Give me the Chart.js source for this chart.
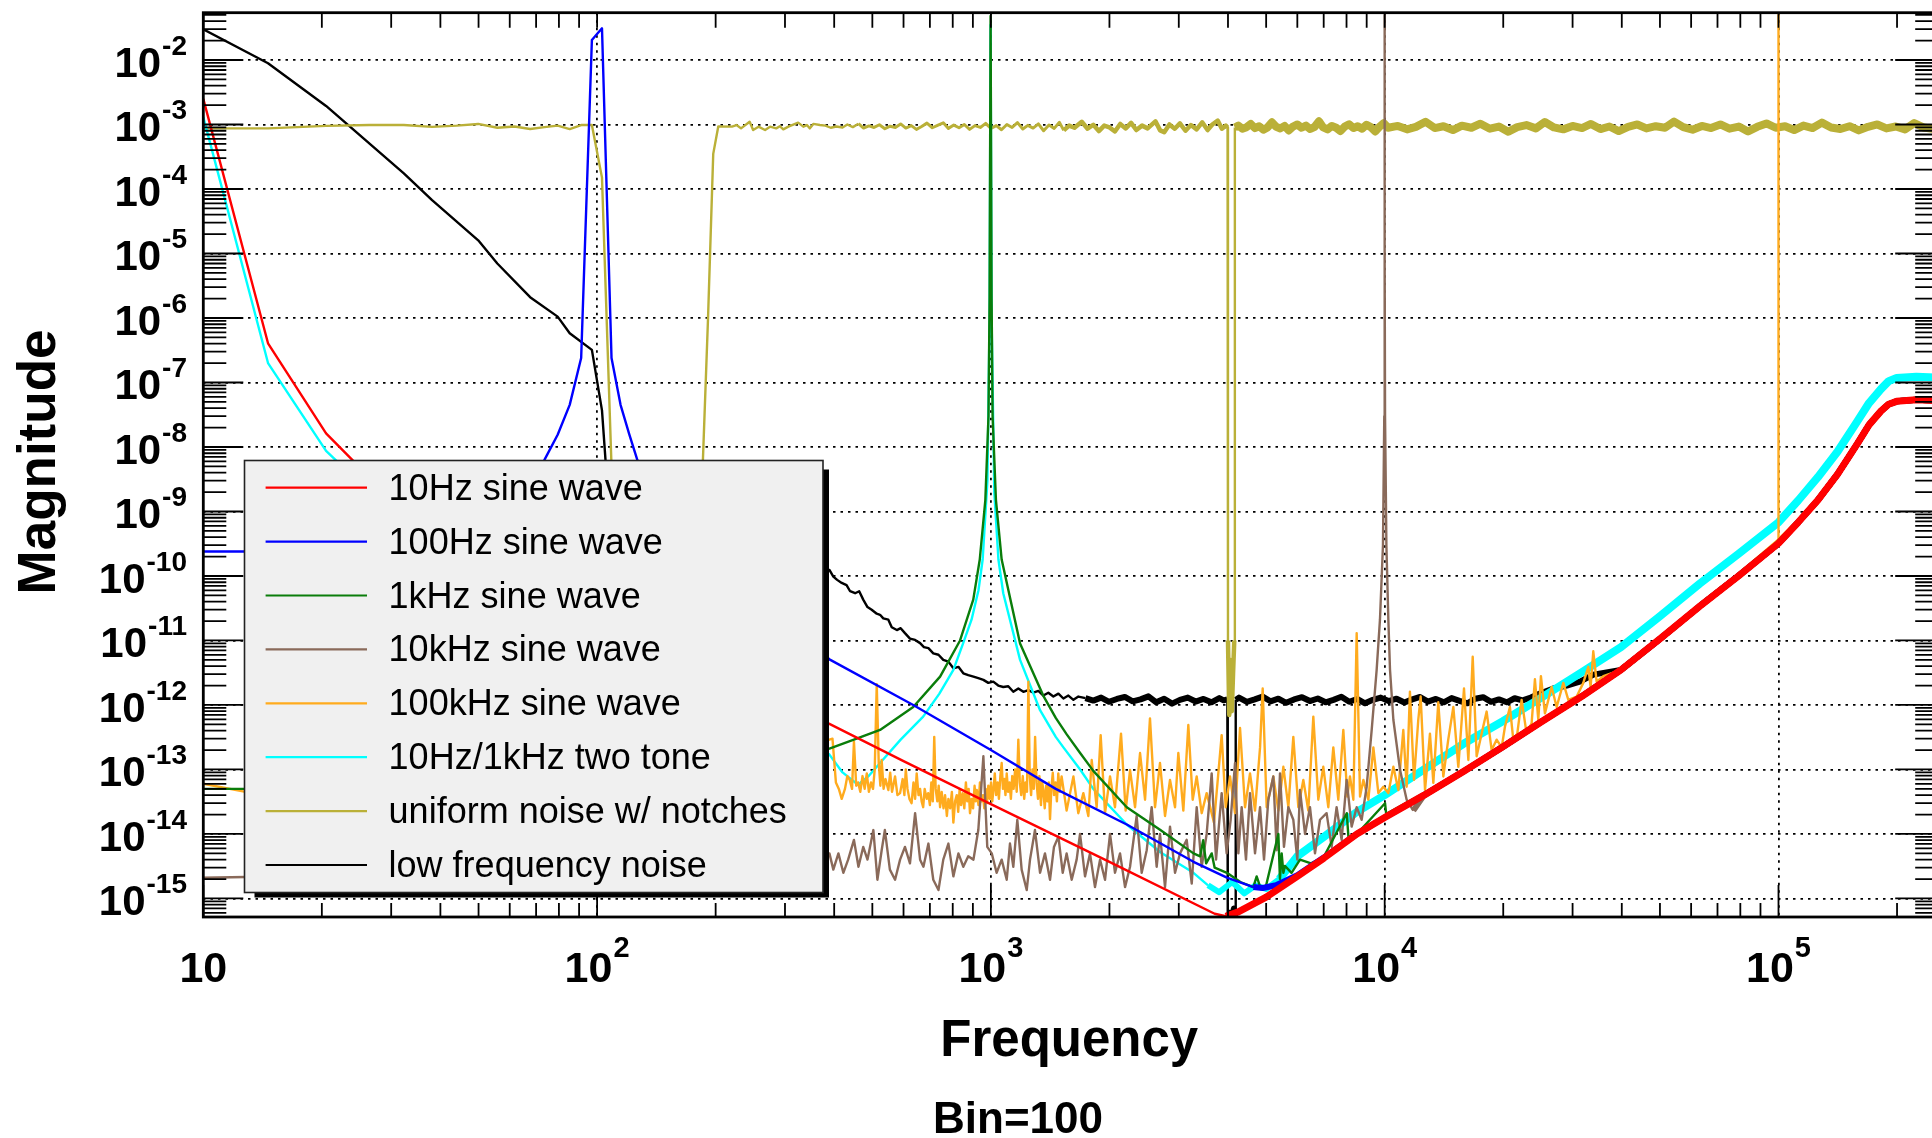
<!DOCTYPE html>
<html>
<head>
<meta charset="utf-8">
<title>Magnitude vs Frequency</title>
<script src="https://cdn.jsdelivr.net/npm/chart.js@4.4.1/dist/chart.umd.min.js"></script>
<style>
  html, body { margin: 0; padding: 0; background: #fff; overflow: hidden; }
  canvas { display: block; }
</style>
</head>
<body>
<canvas id="spectrum" width="1940" height="1138" style="width:1940px;height:1138px"></canvas>
<script>
// FFT magnitude spectra: one [frequency in Hz, magnitude] list per test signal

const sine10Hz = [
  [10, 2.5e-3], [14.6, 4.05e-7], [20.5, 1.63e-8], [26.4, 3.4e-9], [38.1, 5.2e-10],
  [55.8, 1.7e-10], [100, 2.9e-11], [200, 3.7e-12], [389, 5.1e-13], [600, 1.35e-13],
  [1000, 2.9e-14], [2000, 3.7e-15], [3700, 5.8e-16], [3950, 5.3e-16], [4250, 6.2e-16],
  [5000, 1.05e-15], [6000, 2.2e-15], [7000, 4.2e-15], [8500, 1e-14], [10000, 1.8e-14],
  [12590, 4.0e-14], [15850, 9.3e-14], [19950, 2.24e-13], [25120, 5.6e-13], [31620, 1.35e-12],
  [39810, 3.5e-12], [50120, 1.07e-11], [63100, 3.4e-11], [79430, 1.02e-10], [100000, 3.2e-10],
  [112200, 6.8e-10], [125900, 1.5e-9], [141300, 3.8e-9], [158500, 1.12e-8], [169800, 2.2e-8],
  [182000, 3.6e-8], [190500, 4.6e-8], [199500, 5.1e-8], [223900, 5.4e-8], [250000, 5.25e-8]
];

const sine100Hz = [
  [10, 2.4e-10], [14.6, 2.4e-10], [20.5, 2.5e-10], [40, 4e-10], [61.7, 1.5e-9],
  [67.6, 3e-9], [73.5, 6.3e-9], [79.4, 1.55e-8], [85.2, 4.5e-8], [91.1, 2.4e-7],
  [97.0, 2.04e-2], [102.9, 3.1e-2], [108.8, 2.4e-7], [114.7, 4.5e-8], [120.6, 1.6e-8],
  [126.5, 6.3e-9], [150, 1.2e-9], [200, 1.8e-10], [300, 2.5e-11], [389, 5.1e-12],
  [635, 1e-12], [1000, 2e-13], [1461, 5e-14], [2213, 1.4e-14], [3269, 3.7e-15],
  [3975, 2.1e-15], [4639, 1.5e-15], [4900, 1.45e-15], [5300, 1.6e-15], [6000, 2.3e-15],
  [7000, 4.3e-15], [8500, 1e-14], [10000, 1.8e-14], [12590, 4.0e-14], [15850, 9.3e-14],
  [19950, 2.24e-13], [25120, 5.6e-13], [31620, 1.35e-12], [39810, 3.5e-12], [50120, 1.07e-11],
  [63100, 3.4e-11], [79430, 1.02e-10], [100000, 3.2e-10], [112200, 6.8e-10], [125900, 1.5e-9],
  [141300, 3.8e-9], [158500, 1.12e-8], [169800, 2.2e-8], [182000, 3.6e-8], [190500, 4.6e-8],
  [199500, 5.1e-8], [223900, 5.4e-8], [250000, 5.25e-8]
];

const sine1kHz = [
  [10, 5e-14], [14.6, 5e-14], [20.5, 5e-14], [50, 5.5e-14], [100, 6.5e-14],
  [200, 9e-14], [300, 1.4e-13], [389, 2.1e-13], [456, 3e-13], [523, 4.1e-13],
  [635, 9.3e-13], [743, 2.75e-12], [835, 1e-11], [902, 4.3e-11], [937, 1.8e-10],
  [968, 1.5e-9], [986, 3e-8], [992.3, 2e-6], [998.2, 4.8e-2], [1004.1, 2e-6],
  [1010, 3e-8], [1030, 1.5e-9], [1065, 1.8e-10], [1186, 9e-12], [1358, 1.4e-12],
  [1461, 6.3e-13], [1558, 3.5e-13], [1685, 1.8e-13], [1820, 9.5e-14], [2213, 2.6e-14],
  [2694, 1.15e-14], [3269, 5e-15], [3400, 4.5e-15], [3460, 8e-15], [3520, 3.5e-15],
  [3637, 5e-15], [3700, 3e-15], [3975, 2.5e-15], [4300, 1.8e-15], [4639, 1.5e-15],
  [4730, 2.2e-15], [4850, 1.4e-15], [5000, 1.6e-15], [5370, 1e-14], [5420, 2e-15],
  [5475, 5e-15], [5530, 2.5e-15], [5580, 3.2e-15], [5800, 2.5e-15], [6095, 4e-15],
  [6500, 3.5e-15], [7000, 4.4e-15], [8010, 2.1e-14], [8100, 8e-15], [8500, 1e-14],
  [10020, 3e-14], [10100, 1.9e-14], [12590, 4.0e-14], [15850, 9.3e-14], [19950, 2.24e-13],
  [25120, 5.6e-13], [31620, 1.35e-12], [39810, 3.5e-12], [50120, 1.07e-11], [63100, 3.4e-11],
  [79430, 1.02e-10], [100000, 3.2e-10], [112200, 6.8e-10], [125900, 1.5e-9], [141300, 3.8e-9],
  [158500, 1.12e-8], [169800, 2.2e-8], [182000, 3.6e-8], [190500, 4.6e-8], [199500, 5.1e-8],
  [223900, 5.4e-8], [250000, 5.25e-8]
];

const sine10kHz = [
  [10, 2.1e-15], [12.8, 2.15e-15], [30, 2.4e-15], [100, 2.8e-15], [250, 3.2e-15],
  [389, 5.0e-15], [398, 2.8e-15], [410, 5.0e-15], [422, 2.5e-15], [434, 4.0e-15],
  [449, 8.1e-15], [461, 3.1e-15], [474, 6.3e-15], [486, 4.0e-15], [503, 1.15e-14],
  [515, 1.95e-15], [528, 5.6e-15], [538, 1.15e-14], [554, 2.8e-15], [571, 1.95e-15],
  [588, 4.0e-15], [605, 6.3e-15], [623, 3.5e-15], [642, 2.1e-14], [661, 4.0e-15],
  [674, 3.1e-15], [694, 7.1e-15], [714, 1.95e-15], [736, 1.35e-15], [757, 4.0e-15],
  [780, 7.1e-15], [803, 2.2e-15], [827, 5.0e-15], [851, 3.1e-15], [876, 4.5e-15],
  [903, 4.0e-15], [929, 1.15e-14], [957, 1.6e-13], [979, 6.3e-15], [1005, 5.0e-15],
  [1034, 2.5e-15], [1065, 4.0e-15], [1097, 1.95e-15], [1118, 7.1e-15], [1140, 3.1e-15],
  [1167, 1.66e-14], [1197, 2.8e-15], [1233, 1.35e-15], [1257, 4.0e-15], [1294, 1.15e-14],
  [1333, 2.5e-15], [1372, 5.0e-15], [1413, 1.95e-15], [1446, 6.3e-15], [1484, 9.1e-15],
  [1522, 2.5e-15], [1557, 5.0e-15], [1604, 1.95e-15], [1651, 4.0e-15], [1684, 1.0e-14],
  [1734, 2.2e-15], [1785, 5.0e-15], [1838, 1.5e-15], [1893, 4.0e-15], [1949, 1.95e-15],
  [2007, 1.0e-14], [2066, 2.5e-15], [2128, 5.0e-15], [2191, 1.5e-15], [2256, 3.1e-15],
  [2345, 1.9e-14], [2415, 2.5e-15], [2487, 5.6e-15], [2560, 2.6e-14], [2636, 3.1e-15],
  [2688, 1.0e-14], [2768, 1.5e-15], [2850, 1.3e-14], [2935, 2.5e-15], [3022, 5.0e-15],
  [3142, 8.1e-15], [3236, 1.7e-15], [3331, 2.6e-14], [3430, 3.1e-15], [3531, 1.0e-14],
  [3636, 8.7e-14], [3730, 4.0e-15], [3855, 4.3e-14], [3969, 5.0e-15], [4063, 1.66e-14],
  [4168, 1.26e-13], [4250, 5.0e-15], [4333, 2.6e-14], [4444, 4.0e-15], [4550, 4.3e-14],
  [4685, 5.0e-15], [4825, 2.6e-14], [4938, 4.0e-15], [5064, 3.4e-14], [5214, 7.8e-14],
  [5317, 5.6e-15], [5422, 8.7e-14], [5549, 6.3e-15], [5693, 2.6e-14], [5861, 1.66e-14],
  [6000, 4.0e-15], [6094, 4.8e-14], [6276, 1.0e-14], [6461, 2.6e-14], [6653, 5.0e-15],
  [6850, 1.66e-14], [7120, 2.1e-14], [7331, 6.3e-15], [7549, 2.6e-14], [7774, 8.1e-15],
  [8005, 6.9e-14], [8243, 1.3e-14], [8488, 2.6e-14], [8740, 1.66e-14], [9000, 5.4e-14],
  [9268, 4.1e-13], [9541, 3.5e-12], [9727, 2.1e-11], [9900, 3e-10], [9975, 3e-8],
  [9992, 1e-5], [9998, 5e-2], [10004, 1e-5], [10021, 3e-8], [10100, 3e-10],
  [10216, 2.1e-11], [10316, 3.5e-12], [10520, 5.9e-13], [10940, 9.8e-14], [11370, 3.4e-14],
  [11820, 2.3e-14], [12590, 4.0e-14], [15850, 9.3e-14], [19950, 2.24e-13], [25120, 5.6e-13],
  [31620, 1.35e-12], [39810, 3.5e-12], [50120, 1.07e-11], [63100, 3.4e-11], [79430, 1.02e-10],
  [100000, 3.2e-10], [112200, 6.8e-10], [125900, 1.5e-9], [141300, 3.8e-9], [158500, 1.12e-8],
  [169800, 2.2e-8], [182000, 3.6e-8], [190500, 4.6e-8], [199500, 5.1e-8], [223900, 5.4e-8],
  [250000, 5.25e-8]
];

const sine100kHz = [
  [10, 6e-14], [12.8, 4.5e-14], [20, 3.5e-14], [50, 4.5e-14], [100, 6e-14],
  [200, 1e-13], [300, 1.6e-13], [389, 2.9e-13], [396, 3.0e-13], [404, 6.3e-14],
  [411, 5.0e-14], [418, 3.5e-14], [426, 5.0e-14], [432, 7.9e-14], [438, 6.9e-14],
  [444, 5.0e-14], [449, 2.7e-13], [455, 5.6e-14], [460, 6.3e-14], [466, 4.5e-14],
  [472, 7.9e-14], [478, 5.0e-14], [484, 8.7e-14], [490, 4.5e-14], [496, 6.3e-14],
  [502, 5.0e-14], [507, 1.0e-13], [513, 2.1e-12], [519, 1.26e-13], [524, 5.6e-14],
  [528, 1.4e-13], [534, 5.0e-14], [540, 7.1e-14], [549, 4.8e-14], [555, 8.9e-14],
  [561, 4.5e-14], [571, 7.8e-14], [579, 4.0e-14], [588, 4.3e-14], [597, 7.1e-14],
  [603, 4.0e-14], [608, 1.0e-13], [614, 5.0e-14], [621, 3.5e-14], [629, 3.0e-14],
  [636, 6.3e-14], [642, 3.5e-14], [648, 8.7e-14], [655, 4.0e-14], [661, 5.0e-14],
  [667, 3.2e-14], [673, 2.6e-14], [679, 5.0e-14], [687, 3.5e-14], [693, 4.3e-14],
  [700, 2.8e-14], [706, 6.3e-14], [712, 3.2e-14], [718, 3.2e-13], [724, 5.0e-14],
  [731, 3.2e-14], [737, 5.6e-14], [743, 2.6e-14], [750, 4.5e-14], [758, 2.5e-14],
  [765, 4.0e-14], [773, 1.9e-14], [780, 3.5e-14], [788, 2.5e-14], [796, 4.5e-14],
  [803, 1.5e-14], [811, 3.2e-14], [819, 4.0e-14], [826, 2.2e-14], [833, 5.0e-14],
  [840, 2.8e-14], [848, 4.3e-14], [856, 2.5e-14], [864, 6.3e-14], [871, 3.2e-14],
  [878, 5.0e-14], [885, 2.1e-14], [893, 3.5e-14], [901, 2.5e-14], [909, 5.6e-14],
  [915, 3.2e-14], [921, 4.8e-14], [930, 2.8e-14], [938, 6.3e-14], [946, 3.2e-14],
  [955, 4.0e-14], [962, 2.5e-14], [970, 5.0e-14], [977, 3.0e-14], [985, 5.6e-14],
  [993, 3.5e-14], [1001, 6.3e-14], [1008, 3.2e-14], [1016, 5.0e-14], [1023, 8.7e-14],
  [1031, 4.0e-14], [1040, 6.3e-14], [1048, 3.5e-14], [1057, 7.9e-14], [1065, 1.26e-13],
  [1073, 5.0e-14], [1081, 7.1e-14], [1089, 4.0e-14], [1097, 8.7e-14], [1106, 4.5e-14],
  [1115, 6.3e-14], [1124, 3.5e-14], [1133, 7.9e-14], [1142, 5.0e-14], [1152, 1.0e-13],
  [1163, 4.5e-14], [1174, 2.9e-13], [1184, 6.3e-14], [1194, 4.0e-14], [1205, 7.9e-14],
  [1215, 3.5e-14], [1225, 6.3e-14], [1235, 4.5e-14], [1245, 2.3e-12], [1255, 7.9e-14],
  [1265, 4.0e-14], [1275, 1.0e-13], [1285, 5.0e-14], [1295, 3.2e-13], [1306, 6.3e-14],
  [1317, 3.5e-14], [1328, 7.9e-14], [1340, 2.8e-14], [1350, 6.3e-14], [1359, 4.8e-14],
  [1370, 2.5e-14], [1381, 5.6e-14], [1392, 3.2e-14], [1403, 6.3e-14], [1413, 1.7e-14],
  [1424, 5.0e-14], [1436, 8.9e-14], [1447, 4.0e-14], [1459, 6.3e-14], [1471, 3.2e-14],
  [1483, 8.7e-14], [1495, 4.5e-14], [1512, 7.8e-14], [1557, 2.3e-14], [1620, 7.8e-14],
  [1667, 2.1e-14], [1717, 4.3e-14], [1768, 1.9e-14], [1803, 1.4e-13], [1856, 2.6e-14],
  [1900, 3.4e-13], [1949, 2.1e-14], [2007, 7.8e-14], [2066, 2.6e-14], [2140, 3.6e-13],
  [2199, 2.3e-14], [2256, 9.8e-14], [2323, 2.6e-14], [2392, 1.8e-13], [2463, 3.4e-14],
  [2535, 6.2e-13], [2611, 2.6e-14], [2688, 1.26e-13], [2768, 1.9e-14], [2850, 6.9e-14],
  [2935, 2.6e-14], [2992, 1.8e-13], [3081, 2.3e-14], [3172, 4.9e-13], [3254, 3.4e-14],
  [3331, 7.8e-14], [3430, 2.1e-14], [3531, 4.3e-14], [3686, 1.5e-14], [3855, 3.4e-13],
  [3947, 2.6e-14], [4048, 7.8e-14], [4168, 2.1e-14], [4292, 4.4e-13], [4419, 2.6e-14],
  [4550, 8.7e-14], [4685, 2.3e-14], [4825, 2.2e-13], [4900, 1.8e-12], [5015, 2.6e-14],
  [5214, 7.8e-14], [5370, 2.3e-14], [5529, 1.1e-13], [5693, 2.6e-14], [5861, 3.2e-13],
  [6035, 2.6e-14], [6214, 6.9e-14], [6398, 2.3e-14], [6588, 6.6e-13], [6783, 3.4e-14],
  [6984, 1.1e-13], [7191, 2.6e-14], [7405, 2.2e-13], [7624, 3.4e-14], [7852, 4.1e-13],
  [8037, 3.8e-14], [8163, 7.8e-14], [8325, 3.4e-14], [8489, 1.3e-11], [8656, 3.8e-14],
  [8827, 6.9e-14], [9089, 3.4e-14], [9359, 2.2e-13], [9636, 4.3e-14], [9922, 5.4e-14],
  [10216, 4.3e-14], [10520, 1.1e-13], [10830, 4.8e-14], [11150, 4.1e-13], [11370, 5.4e-14],
  [11590, 1.6e-12], [11870, 6.9e-14], [12170, 5.9e-13], [12340, 1.35e-12], [12660, 4.8e-14],
  [13030, 3.6e-13], [13290, 6.2e-14], [13680, 1.1e-12], [14090, 7.8e-14], [14500, 2.9e-13],
  [14940, 9.3e-13], [15380, 1.1e-13], [15900, 1.8e-12], [16310, 1.4e-13], [16730, 5.6e-12],
  [17120, 1.6e-13], [17630, 3.6e-13], [18150, 7.9e-13], [18690, 2.0e-13], [19240, 2.9e-13],
  [19820, 2.2e-13], [20200, 4.6e-13], [20800, 9.3e-13], [21210, 2.9e-13], [21710, 3.6e-13],
  [22270, 1.2e-12], [22930, 3.6e-13], [23610, 5.2e-13], [24070, 2.5e-12], [24550, 5.9e-13],
  [24930, 2.8e-12], [25520, 7.4e-13], [26540, 1.9e-12], [27330, 9.3e-13], [28420, 2.2e-12],
  [29260, 1.2e-12], [30730, 1.35e-12], [31940, 2.2e-12], [32890, 3.9e-12], [33340, 1.9e-12],
  [33860, 6.8e-12], [34530, 2.3e-12], [35910, 2.8e-12], [39810, 3.5e-12], [50120, 1.07e-11],
  [63100, 3.4e-11], [79430, 1.02e-10], [99994, 3.4e-10], [100000, 5e-2], [100006, 3.4e-10],
  [112200, 6.8e-10], [125900, 1.5e-9], [141300, 3.8e-9], [158500, 1.12e-8], [169800, 2.2e-8],
  [182000, 3.6e-8], [190500, 4.6e-8], [199500, 5.1e-8], [223900, 5.4e-8], [250000, 5.25e-8]
];

const twoTone = [
  [10, 1.3e-3], [14.6, 2e-7], [20.5, 8.7e-9], [26.4, 2e-9], [40, 3e-10],
  [100, 1.8e-11], [200, 2.2e-12], [300, 5e-13], [389, 1.7e-13], [420, 9e-14],
  [460, 5.8e-14], [490, 8e-14], [523, 1.26e-13], [590, 2.9e-13], [673, 6.6e-13],
  [740, 1.5e-12], [803, 3.5e-12], [850, 9e-12], [893, 2.1e-11], [930, 6e-11],
  [953, 1.8e-10], [980, 3e-9], [992.3, 1e-6], [998.2, 3.5e-2], [1004.1, 1e-6],
  [1020, 2e-9], [1045, 1.8e-10], [1075, 5.4e-11], [1186, 5e-12], [1333, 8.3e-13],
  [1461, 3.2e-13], [1528, 2.2e-13], [1685, 1e-13], [1820, 5e-14], [2213, 1.4e-14],
  [2694, 5.2e-15], [3269, 2.5e-15], [3560, 1.6e-15], [3800, 1.25e-15], [4100, 1.8e-15],
  [4400, 1.2e-15], [4700, 1.6e-15], [5000, 1.4e-15], [5400, 2e-15], [6000, 4.5e-15],
  [7000, 9e-15], [8500, 2.2e-14], [10000, 4e-14], [12590, 1.0e-13], [15850, 2.5e-13],
  [19950, 5.6e-13], [25120, 1.32e-12], [31620, 3.2e-12], [39810, 7.9e-12], [50120, 2.4e-11],
  [63100, 7.6e-11], [79430, 2.24e-10], [100000, 6.8e-10], [112200, 1.48e-9], [125900, 3.4e-9],
  [141300, 8.5e-9], [158500, 2.5e-8], [169800, 4.8e-8], [182000, 7.9e-8], [190500, 1.05e-7],
  [199500, 1.17e-7], [223900, 1.23e-7], [250000, 1.2e-7]
];

const uniformNoise = [
  [10, 8.7e-4], [14.6, 8.7e-4], [20.5, 9.5e-4], [26.4, 9.8e-4], [32.3, 9.8e-4],
  [38.1, 9.2e-4], [44.0, 9.6e-4], [49.9, 1.02e-3], [55.8, 8.9e-4], [61.7, 9.3e-4],
  [67.6, 8.5e-4], [73.5, 9.1e-4], [79.4, 9.6e-4], [85.2, 8.5e-4], [91.1, 9.8e-4],
  [97.0, 9.8e-4], [102.9, 1.5e-4], [108.8, 5e-9], [114.7, 1e-12], [130, 3e-13],
  [150, 5e-13], [170, 2e-13], [179.5, 1e-12], [185.4, 5e-9], [191.3, 1e-6],
  [197.2, 3.5e-4], [203.1, 9.3e-4], [220, 9.25e-4], [226, 9.8e-4], [232, 8.7e-4],
  [244, 1.1e-3], [249, 8.2e-4], [257, 9.25e-4], [267, 8.2e-4], [275, 9.25e-4],
  [285, 8.7e-4], [291, 9.4e-4], [297, 8.4e-4], [306, 9.25e-4], [324, 1.07e-3],
  [334, 9.25e-4], [341, 9.8e-4], [347, 8.7e-4], [354, 1.02e-3], [368, 9.8e-4],
  [380, 9.6e-4], [392, 8.9e-4], [405, 9.3e-4], [420, 9.0e-4], [432, 1.0e-3],
  [446, 9.1e-4], [461, 1.03e-3], [475, 8.8e-4], [490, 9.5e-4], [505, 9.0e-4],
  [521, 9.9e-4], [538, 8.6e-4], [555, 9.4e-4], [572, 9.0e-4], [590, 1.02e-3],
  [608, 8.8e-4], [628, 9.6e-4], [647, 8.4e-4], [667, 9.3e-4], [688, 1.05e-3],
  [710, 8.9e-4], [732, 9.7e-4], [757, 1.06e-3], [780, 8.7e-4], [805, 9.8e-4],
  [830, 8.9e-4], [856, 1.0e-3], [883, 8.4e-4], [911, 9.6e-4], [940, 9.0e-4],
  [970, 1.04e-3], [1000, 8.7e-4], [1032, 9.6e-4], [1064, 8.3e-4], [1098, 1.0e-3],
  [1132, 9.0e-4], [1168, 1.07e-3], [1205, 8.5e-4], [1241, 9.7e-4], [1280, 8.8e-4],
  [1320, 1.02e-3], [1361, 8.0e-4], [1404, 9.8e-4], [1448, 8.7e-4], [1493, 1.08e-3],
  [1531, 8.1e-4], [1580, 9.6e-4], [1630, 8.9e-4], [1701, 1.1e-3], [1760, 8.6e-4],
  [1820, 9.9e-4], [1880, 7.9e-4], [1940, 9.6e-4], [2000, 9.0e-4], [2065, 7.8e-4],
  [2130, 1.02e-3], [2200, 8.7e-4], [2270, 1.06e-3], [2340, 8.2e-4], [2420, 9.6e-4],
  [2500, 8.7e-4], [2617, 1.12e-3], [2690, 8.1e-4], [2755, 7.6e-4], [2840, 1.0e-3],
  [2930, 8.6e-4], [3020, 1.04e-3], [3120, 8.0e-4], [3220, 9.8e-4], [3330, 8.4e-4],
  [3440, 1.08e-3], [3550, 8.2e-4], [3650, 1.0e-3], [3767, 1.15e-3], [3860, 8.6e-4],
  [3950, 9.6e-4], [3990, 9e-4], [4000, 1e-11], [4030, 7e-13], [4060, 5e-12],
  [4090, 8e-13], [4120, 3e-12], [4150, 1e-11], [4164, 9e-4], [4250, 9.6e-4],
  [4350, 8.6e-4], [4460, 9.1e-4], [4570, 1.02e-3], [4680, 8.8e-4], [4800, 9.4e-4],
  [4920, 8.3e-4], [5040, 9.0e-4], [5170, 1.08e-3], [5300, 9.2e-4], [5430, 8.7e-4],
  [5570, 9.5e-4], [5710, 8.1e-4], [5850, 9.3e-4], [6000, 1.0e-3], [6150, 8.9e-4],
  [6310, 9.6e-4], [6470, 8.5e-4], [6640, 9.2e-4], [6810, 1.12e-3], [6980, 9.0e-4],
  [7160, 8.4e-4], [7340, 9.5e-4], [7530, 8.9e-4], [7720, 7.9e-4], [7920, 9.3e-4],
  [8120, 1.01e-3], [8330, 8.8e-4], [8540, 9.4e-4], [8760, 8.6e-4], [8990, 9.9e-4],
  [9220, 9.1e-4], [9460, 7.8e-4], [9700, 9.2e-4], [9950, 1.05e-3], [10200, 8.9e-4],
  [10800, 9.5e-4], [11400, 8.4e-4], [12000, 9.2e-4], [12700, 1.1e-3], [13400, 8.8e-4],
  [14100, 9.4e-4], [14900, 8.2e-4], [15700, 9.6e-4], [16600, 8.9e-4], [17500, 1.03e-3],
  [18500, 8.6e-4], [19500, 9.3e-4], [20600, 7.7e-4], [21700, 9.1e-4], [22900, 9.8e-4],
  [24200, 8.7e-4], [25500, 1.09e-3], [26900, 9.0e-4], [28400, 8.4e-4], [30000, 9.5e-4],
  [31700, 8.8e-4], [33400, 1.02e-3], [35300, 8.5e-4], [37200, 9.3e-4], [39300, 7.9e-4],
  [41500, 9.2e-4], [43800, 1.0e-3], [46200, 8.7e-4], [48800, 9.4e-4], [51500, 8.9e-4],
  [54300, 1.11e-3], [57300, 9.1e-4], [60500, 8.3e-4], [63900, 9.5e-4], [67400, 8.8e-4],
  [71200, 1.0e-3], [75100, 8.6e-4], [79300, 9.3e-4], [83700, 7.8e-4], [88300, 9.2e-4],
  [93200, 1.04e-3], [98400, 8.9e-4], [103900, 9.4e-4], [109600, 8.2e-4], [115700, 9.6e-4],
  [122100, 8.8e-4], [128900, 1.07e-3], [136000, 9.0e-4], [143600, 8.5e-4], [151500, 9.4e-4],
  [159900, 8.1e-4], [168800, 9.2e-4], [178200, 1.0e-3], [188000, 8.7e-4], [198500, 9.3e-4],
  [209500, 8.4e-4], [221100, 1.05e-3], [233400, 9.0e-4], [246300, 8.6e-4], [250000, 9.1e-4]
];

const lowFreqNoise = [
  [10, 3.0e-2], [14.6, 8.9e-3], [20.5, 1.94e-3], [32.3, 1.75e-4], [38.1, 6.7e-5],
  [49.9, 1.6e-5], [55.8, 7e-6], [67.6, 2.1e-6], [79.4, 1.05e-6], [85.2, 5.8e-7],
  [97.0, 3.2e-7], [102.9, 3.7e-8], [108.8, 3e-10], [150, 2e-10], [250, 1.6e-10],
  [389, 1.24e-10], [398, 9.8e-11], [407, 8.7e-11], [418, 7.8e-11], [430, 7.2e-11],
  [439, 5.8e-11], [452, 5.4e-11], [463, 5.8e-11], [474, 4.3e-11], [486, 3.3e-11],
  [498, 3.0e-11], [513, 2.6e-11], [523, 2.5e-11], [533, 2.2e-11], [549, 2.1e-11],
  [560, 1.6e-11], [577, 1.45e-11], [590, 1.55e-11], [605, 1.3e-11], [623, 1.07e-11],
  [642, 1.02e-11], [661, 9.1e-12], [676, 7.9e-12], [694, 7.6e-12], [714, 6.3e-12],
  [736, 6.0e-12], [757, 5.0e-12], [780, 4.7e-12], [803, 3.7e-12], [827, 3.9e-12],
  [851, 3.1e-12], [876, 2.9e-12], [903, 2.75e-12], [929, 2.6e-12], [957, 2.45e-12],
  [985, 2.2e-12], [1014, 2.3e-12], [1044, 2.0e-12], [1075, 1.9e-12], [1107, 1.95e-12],
  [1140, 1.6e-12], [1174, 1.8e-12], [1209, 1.6e-12], [1245, 1.7e-12], [1282, 1.55e-12],
  [1320, 1.65e-12], [1359, 1.4e-12], [1399, 1.55e-12], [1441, 1.35e-12], [1484, 1.5e-12],
  [1528, 1.26e-12], [1573, 1.4e-12], [1620, 1.2e-12], [1668, 1.35e-12], [1738, 1.28e-12],
  [1820, 1.17e-12], [1905, 1.3e-12], [1995, 1.12e-12], [2089, 1.24e-12], [2188, 1.33e-12],
  [2291, 1.14e-12], [2399, 1.22e-12], [2512, 1.36e-12], [2630, 1.1e-12], [2754, 1.25e-12],
  [2884, 1.05e-12], [3020, 1.2e-12], [3162, 1.3e-12], [3311, 1.13e-12], [3467, 1.24e-12],
  [3631, 1.1e-12], [3802, 1.28e-12], [3900, 1.18e-12], [3985, 1.22e-12], [3995, 4e-16],
  [4040, 6e-16], [4090, 4.5e-16], [4140, 7e-16], [4175, 5e-16], [4185, 1.2e-12],
  [4266, 1.3e-12], [4467, 1.12e-12], [4677, 1.22e-12], [4898, 1.35e-12], [5129, 1.14e-12],
  [5370, 1.25e-12], [5623, 1.08e-12], [5888, 1.22e-12], [6166, 1.32e-12], [6457, 1.15e-12],
  [6761, 1.26e-12], [7079, 1.1e-12], [7413, 1.2e-12], [7762, 1.34e-12], [8128, 1.12e-12],
  [8511, 1.24e-12], [8913, 1.06e-12], [9333, 1.2e-12], [9772, 1.3e-12], [10230, 1.15e-12],
  [10720, 1.25e-12], [11220, 1.09e-12], [11750, 1.22e-12], [12300, 1.33e-12], [12880, 1.13e-12],
  [13490, 1.24e-12], [14130, 1.1e-12], [14790, 1.28e-12], [15490, 1.16e-12], [16220, 1.06e-12],
  [16980, 1.25e-12], [17780, 1.32e-12], [18620, 1.12e-12], [19500, 1.22e-12], [20420, 1.1e-12],
  [21380, 1.27e-12], [22390, 1.18e-12], [23500, 1.3e-12], [24800, 1.5e-12], [26800, 1.8e-12],
  [29000, 2.0e-12], [31300, 2.3e-12], [33900, 2.95e-12], [39810, 3.5e-12], [50120, 1.07e-11],
  [63100, 3.4e-11], [79430, 1.02e-10], [100000, 3.2e-10], [112200, 6.8e-10], [125900, 1.5e-9],
  [141300, 3.8e-9], [158500, 1.12e-8], [169800, 2.2e-8], [182000, 3.6e-8], [190500, 4.6e-8],
  [199500, 5.1e-8], [223900, 5.4e-8], [250000, 5.25e-8]
];

// axis decades that get a "10^n" label
const xDecades = [1, 2, 3, 4, 5];
const yDecades = [-2, -3, -4, -5, -6, -7, -8, -9, -10, -11, -12, -13, -14, -15];
const xTitle = 'Frequency';
const yTitle = 'Magnitude';
const footNote = 'Bin=100';

const FONT = '"Liberation Sans", Arial, Helvetica, sans-serif';
const X_MIN = 10, X_MAX = 2.5e5;
const Y_MIN = 5.16e-16, Y_MAX = 5.41e-2;

function logTicks(lo, hi) {
  const out = [];
  for (let e = Math.floor(Math.log10(lo)); e <= Math.ceil(Math.log10(hi)); e++) {
    for (let m = 1; m <= 9; m++) {
      const v = m * Math.pow(10, e);
      if (v >= lo * 0.999 && v <= hi) out.push({ value: v, major: m === 1 });
    }
  }
  return out;
}

// pen width by frequency band; steep jumps (peaks, notches) keep the thin pen
function pen(bands) {
  return (c) => {
    const a = c.p0.parsed, b = c.p1.parsed;
    if (Math.abs(Math.log10(b.y / a.y)) > 1.2) return bands[0][1];
    let w = bands[0][1];
    for (const [f, bw] of bands) if (a.x >= f) w = bw;
    return w;
  };
}

const series = [
  { label: '10Hz sine wave', color: '#ff0000', points: sine10Hz, bands: [[0, 2.4], [3800, 7]] },
  { label: '100Hz sine wave', color: '#0000ff', points: sine100Hz, bands: [[0, 2.4], [4600, 6]] },
  { label: '1kHz sine wave', color: '#0a7d0a', points: sine1kHz, bands: [[0, 2.4], [10100, 6]] },
  { label: '10kHz sine wave', color: '#8a6a5a', points: sine10kHz, bands: [[0, 2.4], [11820, 6]] },
  { label: '100kHz sine wave', color: '#ffab1e', points: sine100kHz, bands: [[0, 2.4], [38000, 6]] },
  { label: '10Hz/1kHz two tone', color: '#00ffff', points: twoTone, bands: [[0, 2.4], [3500, 6], [5400, 8]] },
  { label: 'uniform noise w/ notches', color: '#bab038', points: uniformNoise, bands: [[0, 2.4], [450, 3], [1500, 4.5], [4160, 8]] },
  { label: 'low frequency noise', color: '#000000', points: lowFreqNoise, bands: [[0, 2.4], [1700, 6]] }
];

// frame with inward ticks on all four sides
const frame = {
  id: 'frame',
  afterDatasetsDraw(chart) {
    const { ctx, chartArea: a, scales: { x, y } } = chart;
    ctx.save();
    ctx.strokeStyle = '#000';
    ctx.lineWidth = 1.8;
    ctx.beginPath();
    for (const t of x.ticks) {
      const px = x.getPixelForValue(t.value);
      ctx.moveTo(px, a.bottom); ctx.lineTo(px, a.bottom - (t.major ? 32 : 14));
      ctx.moveTo(px, a.top); ctx.lineTo(px, a.top + 15);
    }
    for (const t of y.ticks) {
      const py = y.getPixelForValue(t.value);
      ctx.moveTo(a.left, py); ctx.lineTo(a.left + (t.major ? 40 : 23), py);
      ctx.moveTo(a.right, py); ctx.lineTo(a.right - (t.major ? 40 : 20), py);
    }
    ctx.stroke();
    ctx.lineWidth = 2.8;
    ctx.strokeRect(a.left, a.top, a.right - a.left, a.bottom - a.top);
    ctx.restore();
  }
};

// power-of-ten tick labels, axis titles and the bin note
const axisText = {
  id: 'axisText',
  afterDraw(chart) {
    const { ctx, chartArea: a, scales: { x, y } } = chart;
    ctx.save();
    ctx.fillStyle = '#000';
    ctx.textBaseline = 'alphabetic';

    for (const e of yDecades) {
      const py = y.getPixelForValue(Math.pow(10, e));
      const sup = String(e);
      ctx.font = `bold 28px ${FONT}`;
      const sw = ctx.measureText(sup).width;
      ctx.textAlign = 'left';
      ctx.fillText(sup, 187 - sw, py - 5);
      ctx.font = `bold 42px ${FONT}`;
      ctx.textAlign = 'right';
      ctx.fillText('10', 186 - sw, py + 16.7);
    }

    for (const e of xDecades) {
      const px = x.getPixelForValue(Math.pow(10, e));
      const sup = e === 1 ? '' : String(e);
      ctx.font = `bold 43px ${FONT}`;
      const bw = ctx.measureText('10').width;
      ctx.font = `bold 29px ${FONT}`;
      const sw = sup ? ctx.measureText(sup).width + 1 : 0;
      const x0 = px - (bw + sw) / 2;
      ctx.textAlign = 'left';
      ctx.font = `bold 43px ${FONT}`;
      ctx.fillText('10', x0, 981.7);
      if (sup) {
        ctx.font = `bold 29px ${FONT}`;
        ctx.fillText(sup, x0 + bw + 1, 957);
      }
    }

    ctx.textAlign = 'center';
    ctx.font = `bold 51px ${FONT}`;
    ctx.fillText(xTitle, (a.left + a.right) / 2, 1056);
    ctx.font = `bold 44px ${FONT}`;
    ctx.fillText(footNote, 1018, 1133);

    ctx.save();
    ctx.translate(55, 462);
    ctx.rotate(-Math.PI / 2);
    ctx.font = `bold 53px ${FONT}`;
    ctx.fillText(yTitle, 0, 0);
    ctx.restore();
    ctx.restore();
  }
};

// boxed legend with a drop shadow, drawn over the plot
const legendBox = {
  id: 'legendBox',
  afterDraw(chart) {
    const { ctx } = chart;
    const bx = 244.5, by = 460.5, bw = 578.5, bh = 432;
    ctx.save();
    ctx.fillStyle = '#000';
    ctx.fillRect(bx + 10, by + 9, bw - 4, bh - 4);
    ctx.fillStyle = '#f0f0f0';
    ctx.fillRect(bx, by, bw, bh);
    ctx.strokeStyle = '#222';
    ctx.lineWidth = 1.6;
    ctx.strokeRect(bx, by, bw, bh);
    ctx.font = `36px ${FONT}`;
    ctx.textAlign = 'left';
    ctx.textBaseline = 'alphabetic';
    chart.data.datasets.forEach((ds, i) => {
      const cy = 487.7 + i * 53.9;
      ctx.strokeStyle = ds.borderColor;
      ctx.lineWidth = 2.2;
      ctx.beginPath();
      ctx.moveTo(265.6, cy);
      ctx.lineTo(367, cy);
      ctx.stroke();
      ctx.fillStyle = '#000';
      ctx.fillText(ds.label, 388.6, cy + 12);
    });
    ctx.restore();
  }
};

const gridColor = (c) => (c.tick && c.tick.major ? '#000' : 'rgba(0,0,0,0)');

new Chart(document.getElementById('spectrum'), {
  type: 'line',
  data: {
    datasets: series.map((s) => ({
      label: s.label,
      data: s.points.map(([f, m]) => ({ x: f, y: m })),
      borderColor: s.color,
      backgroundColor: s.color,
      borderWidth: 2.4,
      borderJoinStyle: 'round',
      pointRadius: 0,
      tension: 0,
      fill: false,
      segment: { borderWidth: pen(s.bands) }
    }))
  },
  options: {
    responsive: false,
    devicePixelRatio: 1,
    animation: false,
    events: [],
    layout: { padding: { left: 203.3, top: 12.7, right: 4.8, bottom: 221 } },
    plugins: { legend: { display: false }, tooltip: { enabled: false } },
    scales: {
      x: {
        type: 'logarithmic',
        min: X_MIN,
        max: X_MAX,
        afterBuildTicks: (s) => { s.ticks = logTicks(X_MIN, X_MAX); },
        afterFit: (s) => { s.height = 0; },
        ticks: { display: false },
        grid: { color: gridColor, lineWidth: 1.8, drawTicks: false },
        border: { display: false, dash: [2.5, 5] }
      },
      y: {
        type: 'logarithmic',
        min: Y_MIN,
        max: Y_MAX,
        afterBuildTicks: (s) => { s.ticks = logTicks(Y_MIN, Y_MAX); },
        afterFit: (s) => { s.width = 0; },
        ticks: { display: false },
        grid: { color: gridColor, lineWidth: 1.8, drawTicks: false },
        border: { display: false, dash: [2.5, 5] }
      }
    }
  },
  plugins: [frame, axisText, legendBox]
});
</script>
</body>
</html>
